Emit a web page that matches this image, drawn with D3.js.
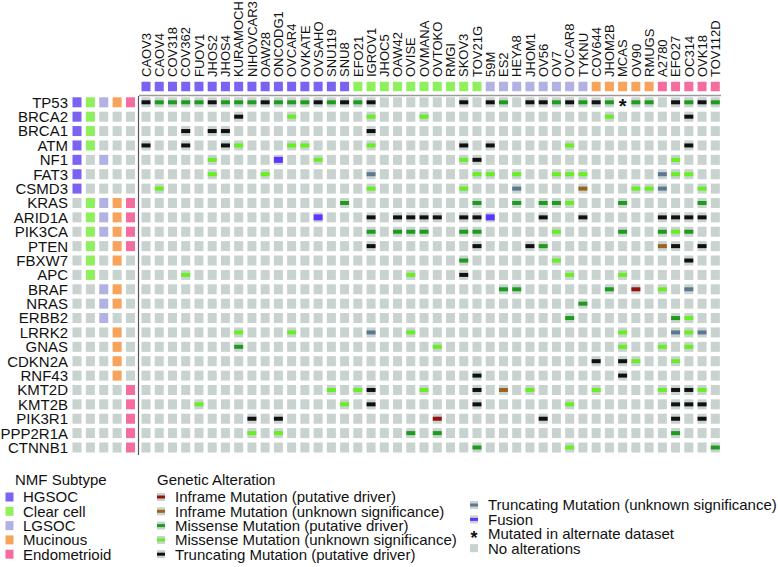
<!DOCTYPE html>
<html>
<head>
<meta charset="utf-8">
<script src="https://cdn.jsdelivr.net/npm/d3@7"></script>
<style>
  html, body { margin: 0; padding: 0; background: #fff; }
  svg { display: block; font-family: "Liberation Sans", Arial, Helvetica, sans-serif; }
</style>
</head>
<body>
<svg id="chart" width="778" height="567"></svg>
<script>
// ---------------- DATA ----------------
const subtypes = ["HGSOC", "Clear cell", "LGSOC", "Mucinous", "Endometrioid"];
const subtypeCodes = ["H", "C", "L", "M", "E"];

const cellLines = [
  "CAOV3","CAOV4","COV318","COV362","FUOV1","JHOS2","JHOS4","KURAMOCHI","NIHOVCAR3","OAW28",
  "ONCODG1","OVCAR4","OVKATE","OVSAHO","SNU119","SNU8",
  "EFO21","IGROV1","JHOC5","OAW42","OVISE","OVMANA","OVTOKO","RMGI","SKOV3","TOV21G",
  "59M","ES2","HEYA8","JHOM1","OV56","OV7","OVCAR8","TYKNU",
  "COV644","JHOM2B","MCAS","OV90","RMUGS",
  "A2780","EFO27","OC314","OVK18","TOV112D"
];
// subtype of each cell line (same order as cellLines)
const cellLineSubtype = "HHHHHHHHHHHHHHHH" + "CCCCCCCCCC" + "LLLLLLLL" + "MMMMM" + "EEEEE";

const genes = ["TP53","BRCA2","BRCA1","ATM","NF1","FAT3","CSMD3","KRAS","ARID1A","PIK3CA",
  "PTEN","FBXW7","APC","BRAF","NRAS","ERBB2","LRRK2","GNAS","CDKN2A","RNF43",
  "KMT2D","KMT2B","PIK3R1","PPP2R1A","CTNNB1"];

// which subtypes each gene is marked for (H C L M E)
const geneSubtypeMarks = ["11111","11000","11000","11000","10100","10000","10000","01111","01111","01111",
  "01011","01010","01000","00110","00110","00100","00010","00010","00010","00010",
  "00001","00001","00001","00001","00001"];

// Alteration codes per gene, one char per cell line (groups separated by "|")
// D missense driver, d missense unknown, T truncating driver, t truncating unknown,
// I inframe driver, i inframe unknown, F fusion, * mutated in alternate dataset, . none
const alterations = [
  "TDDDDTDDDTDDDTDT|DT......T.|TD.TTDTD|TD*DD|.TDTD", // TP53
  ".......T...d....|.d...d....|........|.d...|..T..", // BRCA2
  "...T.TT.........|.T........|........|.....|.....", // BRCA1
  "T..T..Td...dd...|.d......T.|T.....d.|.....|..T..", // ATM
  ".....d....F..d..|........dT|........|.....|.d...", // NF1
  ".....d...d......|.t.......d|d.d..ddd|.....|tdd..", // FAT3
  ".d..............|.d......d.|..t....i|...dd|t..d.", // CSMD3
  "...............D|.........D|..D.DDd.|..D..|...D.", // KRAS
  ".............F..|.T.TTTT.TT|F...T..T|.....|TTTT.", // ARID1A
  "................|.D.DDD..DD|.....d..|..D..|DdD..", // PIK3CA
  "................|.T.......T|...TD...|.....|iT.T.", // PTEN
  "................|........D.|.....d..|.....|..T..", // FBXW7
  "...d............|....d...T.|......d.|..d..|.....", // APC
  "................|..........|.DD.....|.D.I.|d.t..", // BRAF
  "................|..........|.......D|.....|.....", // NRAS
  "................|..........|......D.|.....|.Dd..", // ERBB2
  ".......d...d....|.t..d.....|........|..d..|.tdt.", // LRRK2
  ".......D........|......d...|........|..d..|d.d..", // GNAS
  "................|..........|........|T.Td.|.d...", // CDKN2A
  "................|.........T|........|..T..|.....", // RNF43
  "..............d.|dT...d...T|.i.d....|d....|dTTd.", // KMT2D
  "....d..........d|.T.......T|......d.|.....|.TTT.", // KMT2B
  "........T.T.....|......I...|....T...|.....|.T.T.", // PIK3R1
  "........d.d.....|....D.D...|........|.....|.D...", // PPP2R1A
  "................|.........D|......d.|.....|....D"  // CTNNB1
];

const alterationTypes = ["I","i","D","d","T","t","F","*","."];
const alterationLabels = [
  "Inframe Mutation (putative driver)",
  "Inframe Mutation (unknown significance)",
  "Missense Mutation (putative driver)",
  "Missense Mutation (unknown significance)",
  "Truncating Mutation (putative driver)",
  "Truncating Mutation (unknown significance)",
  "Fusion",
  "Mutated in alternate dataset",
  "No alterations"
];

// ---------------- STYLE ----------------
const subtypeColor = d3.scaleOrdinal().domain(subtypeCodes)
  .range(["#7a62f2", "#8ef05c", "#b2b1e4", "#f8a35c", "#f56c9e"]);
const altColor = d3.scaleOrdinal().domain(["I","i","D","d","T","t","F"])
  .range(["#990f0f", "#9a6420", "#1c9c1c", "#66f022", "#111111", "#5b7890", "#5a36ff"]);
const GREY = "#c8d2cf";
const CW = 9, CH = 10;

const svg = d3.select("#chart");

// ---------------- SCALES ----------------
const x = d3.scalePoint().domain(cellLines).range([146, 715.3]);
const y = d3.scalePoint().domain(genes).range([102.3, 447.5]);
const xs = d3.scalePoint().domain(subtypeCodes).range([77, 130.5]);
const headerY = 86.5;

// ---------------- COLUMN LABELS ----------------
svg.append("g").selectAll("text").data(cellLines).join("text")
  .attr("transform", d => `translate(${x(d)},77) rotate(-90)`)
  .attr("dy", "0.36em")
  .attr("font-size", 13)
  .attr("fill", "#111")
  .text(d => d);

// ---------------- HEADER SUBTYPE ROW ----------------
svg.append("g").selectAll("rect").data(cellLines).join("rect")
  .attr("x", d => x(d) - CW / 2)
  .attr("y", headerY - 4.75)
  .attr("width", CW).attr("height", 9.5)
  .attr("fill", (d, i) => subtypeColor(cellLineSubtype[i]));

svg.append("line")
  .attr("x1", 139).attr("x2", 721)
  .attr("y1", 95.5).attr("y2", 95.5)
  .attr("stroke", "#9a9a9a").attr("stroke-width", 1.6);

svg.append("line")
  .attr("x1", 138.5).attr("x2", 138.5)
  .attr("y1", 96).attr("y2", 455)
  .attr("stroke", "#555").attr("stroke-width", 1.2);

// ---------------- GENE LABELS ----------------
svg.append("g").selectAll("text").data(genes).join("text")
  .attr("x", 68).attr("y", d => y(d))
  .attr("dy", "0.36em")
  .attr("text-anchor", "end")
  .attr("font-size", 15)
  .attr("fill", "#111")
  .text(d => d);

// ---------------- GENE x SUBTYPE MATRIX ----------------
const subCells = [];
genes.forEach((g, gi) => subtypeCodes.forEach((s, si) => {
  subCells.push({ g, s, on: geneSubtypeMarks[gi][si] === "1" });
}));
svg.append("g").selectAll("rect").data(subCells).join("rect")
  .attr("x", d => xs(d.s) - CW / 2)
  .attr("y", d => y(d.g) - CH / 2)
  .attr("width", CW).attr("height", CH)
  .attr("fill", d => d.on ? subtypeColor(d.s) : GREY);

// ---------------- ONCOPRINT ----------------
const cells = [];
genes.forEach((g, gi) => {
  const codes = alterations[gi].replace(/\|/g, "");
  cellLines.forEach((c, ci) => cells.push({ g, c, code: codes[ci] }));
});
const grid = svg.append("g");
grid.selectAll("rect.bg").data(cells.filter(d => d.code !== "*")).join("rect")
  .attr("class", "bg")
  .attr("x", d => x(d.c) - CW / 2)
  .attr("y", d => y(d.g) - CH / 2)
  .attr("width", CW).attr("height", CH)
  .attr("fill", GREY);

const muts = cells.filter(d => altColor.domain().includes(d.code));
grid.selectAll("rect.mut").data(muts).join("rect")
  .attr("class", "mut")
  .attr("x", d => x(d.c) - CW / 2)
  .attr("y", d => y(d.g) - (d.code === "F" ? 3 : 2))
  .attr("width", CW)
  .attr("height", d => d.code === "F" ? 6 : 4)
  .attr("fill", d => altColor(d.code));

grid.selectAll("text.star").data(cells.filter(d => d.code === "*")).join("text")
  .attr("class", "star")
  .attr("x", d => x(d.c))
  .attr("y", d => y(d.g) + 11)
  .attr("text-anchor", "middle")
  .attr("font-size", 20)
  .attr("font-weight", "bold")
  .attr("fill", "#111")
  .text("*");

// ---------------- LEGEND: SUBTYPES ----------------
const leg1 = svg.append("g");
leg1.append("text").attr("x", 15).attr("y", 485).attr("font-size", 15).attr("fill", "#111").text("NMF Subtype");
const ly = d3.scalePoint().domain(subtypes).range([497, 554.2]);
leg1.selectAll("rect").data(subtypes).join("rect")
  .attr("x", 5.5).attr("y", d => ly(d) - 4.5)
  .attr("width", 8).attr("height", 9)
  .attr("fill", (d, i) => subtypeColor(subtypeCodes[i]));
leg1.selectAll("text.item").data(subtypes).join("text")
  .attr("class", "item")
  .attr("x", 23).attr("y", d => ly(d))
  .attr("dy", "0.36em")
  .attr("font-size", 15).attr("fill", "#111")
  .text(d => d);

// ---------------- LEGEND: ALTERATIONS ----------------
const leg2 = svg.append("g");
leg2.append("text").attr("x", 157).attr("y", 485).attr("font-size", 15).attr("fill", "#111").text("Genetic Alteration");
const legItems = alterationTypes.map((code, i) => ({
  code, label: alterationLabels[i],
  sx: i < 5 ? 157 : 470,
  tx: i < 5 ? 175 : 488,
  cy: i < 5 ? 497 + i * 14.3 : 505 + (i - 5) * 14.4
}));
const li = leg2.selectAll("g.item").data(legItems).join("g").attr("class", "item");
li.filter(d => d.code !== "*").append("rect")
  .attr("x", d => d.sx).attr("y", d => d.cy - 4)
  .attr("width", 8).attr("height", 8)
  .attr("fill", GREY);
li.filter(d => altColor.domain().includes(d.code)).append("rect")
  .attr("x", d => d.sx).attr("y", d => d.cy - 1.5)
  .attr("width", 8).attr("height", 3)
  .attr("fill", d => altColor(d.code));
li.filter(d => d.code === "*").append("text")
  .attr("x", d => d.sx + 4).attr("y", d => d.cy + 10)
  .attr("text-anchor", "middle")
  .attr("font-size", 18).attr("font-weight", "bold").attr("fill", "#111")
  .text("*");
li.append("text")
  .attr("x", d => d.tx).attr("y", d => d.cy)
  .attr("dy", "0.36em")
  .attr("font-size", 15).attr("fill", "#111")
  .text(d => d.label);
</script>
</body>
</html>
